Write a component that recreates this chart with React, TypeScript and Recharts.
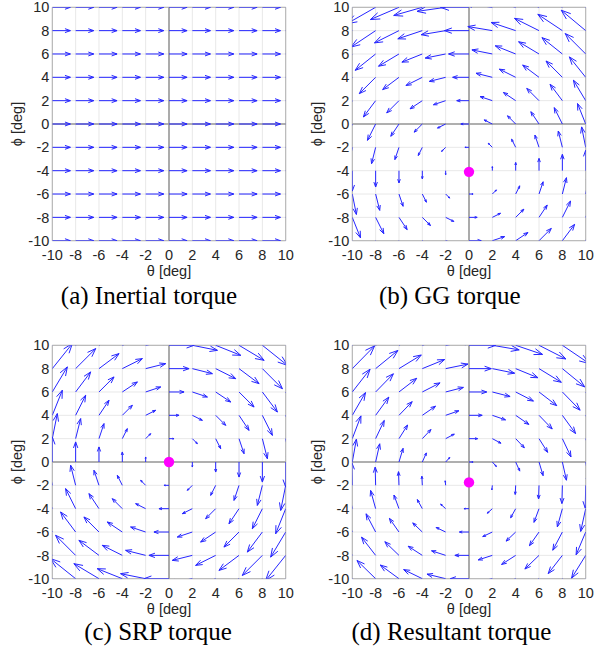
import React from 'react';
import {
  ScatterChart,
  Scatter,
  XAxis,
  YAxis,
  CartesianGrid,
  ReferenceLine,
  ReferenceArea,
} from 'recharts';

// ---------- data ----------
const THETA_TICKS = [-10, -8, -6, -4, -2, 0, 2, 4, 6, 8, 10];
const PHI_TICKS = [-10, -8, -6, -4, -2, 0, 2, 4, 6, 8, 10];

// Arrow components (deg): horizontal component per φ row (φ = -10..10),
// vertical component per θ column (θ = -10..10).
const INERTIAL_U_BY_PHI = [1.55, 1.55, 1.55, 1.55, 1.55, 1.55, 1.55, 1.55, 1.55, 1.55, 1.55];
const INERTIAL_V_BY_THETA = [0, 0, 0, 0, 0, 0, 0, 0, 0, 0, 0];

const GG_U_BY_PHI = [1.05, 0.7, 0.35, 0, -0.35, -0.7, -1.05, -1.4, -1.75, -2.1, -2.45];
const GG_V_BY_THETA = [-1.75, -1.4, -1.05, -0.7, -0.35, 0, 0.35, 0.7, 1.05, 1.4, 1.75];

const SRP_U_BY_PHI = [-2.15, -1.72, -1.29, -0.86, -0.43, 0, 0.43, 0.86, 1.29, 1.72, 2.15];
const SRP_V_BY_THETA = [2.15, 1.72, 1.29, 0.86, 0.43, 0, -0.43, -0.86, -1.29, -1.72, -2.15];

const RES_U_BY_PHI = [-1.6, -1.21, -0.82, -0.43, -0.04, 0.35, 0.74, 1.13, 1.52, 1.91, 2.3];
const RES_V_BY_THETA = [1.95, 1.56, 1.17, 0.78, 0.39, 0, -0.39, -0.78, -1.17, -1.56, -1.95];

// Equilibrium points (magenta markers)
const INERTIAL_EQ: { theta: number; phi: number }[] = [];
const GG_EQ = [{ theta: 0, phi: -4.1 }];
const SRP_EQ = [{ theta: 0, phi: 0 }];
const RES_EQ = [{ theta: 0, phi: -1.75 }];

const CAPTIONS = ['(a) Inertial torque', '(b) GG torque', '(c) SRP torque', '(d) Resultant torque'];
const X_LABEL = 'θ [deg]';
const Y_LABEL = 'ϕ [deg]';

// ---------- styling / layout ----------
const CHART_W = 300;
const CHART_H = 290;
const MARGIN = { top: 7.3, right: 14.3, bottom: 19.3, left: 10.3 };
const Y_AXIS_W = 42;
const X_AXIS_H = 30;
const PLOT_LEFT = MARGIN.left + Y_AXIS_W;
const PLOT_TOP = MARGIN.top;
const PLOT_W = CHART_W - MARGIN.left - MARGIN.right - Y_AXIS_W;
const PLOT_H = CHART_H - MARGIN.top - MARGIN.bottom - X_AXIS_H;

const SANS = '"Liberation Sans", Arial, Helvetica, sans-serif';
const SERIF = '"Liberation Serif", "Times New Roman", serif';
const ARROW_COLOR = '#2626ff';
const TEXT_COLOR = '#262626';

function arrowShape(props: any) {
  const { x1, y1, x2, y2, clipPath } = props;
  const dx = x2 - x1;
  const dy = y2 - y1;
  const L = Math.hypot(dx, dy);
  if (!isFinite(L) || L < 0.5) return <g />;
  const ux = dx / L;
  const uy = dy / L;
  const hl = 0.3 * L;
  const hw = 0.36 * hl;
  const bx = x2 - ux * hl;
  const by = y2 - uy * hl;
  const p1x = bx - uy * hw;
  const p1y = by + ux * hw;
  const p2x = bx + uy * hw;
  const p2y = by - ux * hw;
  return (
    <g clipPath={clipPath}>
      <path
        d={`M${x1},${y1}L${x2},${y2}M${p1x},${p1y}L${x2},${y2}L${p2x},${p2y}`}
        stroke={ARROW_COLOR}
        strokeWidth={1}
        fill="none"
        strokeLinejoin="miter"
      />
    </g>
  );
}

function dotShape(props: any) {
  const { cx, cy } = props;
  return <circle cx={cx} cy={cy} r={5.2} fill="#ff00ff" />;
}

type PanelProps = {
  u: number[];
  v: number[];
  eq: { theta: number; phi: number }[];
  left: number;
  top: number;
};

function QuiverPanel({ u, v, eq, left, top }: PanelProps) {
  const arrows: { key: string; theta: number; phi: number; du: number; dv: number }[] = [];
  PHI_TICKS.forEach((phi, i) => {
    THETA_TICKS.forEach((theta, j) => {
      arrows.push({ key: `${i}-${j}`, theta, phi, du: u[i], dv: v[j] });
    });
  });

  const tickStyle = { fill: TEXT_COLOR, fontSize: 14.5, fontFamily: SANS };

  return (
    <div style={{ position: 'absolute', left, top, width: CHART_W, height: CHART_H }}>
      <ScatterChart width={CHART_W} height={CHART_H} margin={MARGIN}>
        <CartesianGrid stroke="#e8e8e8" strokeWidth={1} fill="none" />
        <XAxis
          type="number"
          dataKey="theta"
          domain={[-10, 10]}
          ticks={THETA_TICKS}
          interval={0}
          allowDataOverflow
          height={X_AXIS_H}
          axisLine={false}
          tickLine={false}
          tickSize={0}
          tickMargin={9}
          tick={tickStyle}
          label={{
            content: () => (
              <text
                x={PLOT_LEFT + PLOT_W / 2}
                y={PLOT_TOP + PLOT_H + 34.8}
                textAnchor="middle"
                fill={TEXT_COLOR}
                fontSize={14.5}
                fontFamily={SANS}
              >
                {X_LABEL}
              </text>
            ),
          }}
        />
        <YAxis
          type="number"
          dataKey="phi"
          domain={[-10, 10]}
          ticks={PHI_TICKS}
          interval={0}
          allowDataOverflow
          width={Y_AXIS_W}
          axisLine={false}
          tickLine={false}
          tickSize={0}
          tickMargin={3}
          tick={tickStyle}
          label={{
            content: () => {
              const cx = 17;
              const cy = PLOT_TOP + PLOT_H / 2;
              return (
                <text
                  x={cx}
                  y={cy}
                  transform={`rotate(-90 ${cx} ${cy})`}
                  textAnchor="middle"
                  dominantBaseline="central"
                  fill={TEXT_COLOR}
                  fontSize={14.5}
                  fontFamily={SANS}
                >
                  {Y_LABEL}
                </text>
              );
            },
          }}
        />
        <ReferenceArea
          x1={-10}
          x2={10}
          y1={-10}
          y2={10}
          fill="none"
          fillOpacity={0}
          stroke="#b0b0b0"
          strokeWidth={1}
          ifOverflow="visible"
        />
        <ReferenceLine x={0} stroke="#999999" strokeWidth={1.6} />
        <ReferenceLine y={0} stroke="#999999" strokeWidth={1.6} />
        {arrows.map((a) => (
          <ReferenceLine
            key={a.key}
            segment={[
              { x: a.theta, y: a.phi },
              { x: a.theta + a.du, y: a.phi + a.dv },
            ]}
            ifOverflow="hidden"
            shape={arrowShape}
          />
        ))}
        <Scatter data={eq} isAnimationActive={false} shape={dotShape} />
      </ScatterChart>
    </div>
  );
}

const CAPTION_POS = [
  { x: 149, y: 303.5 },
  { x: 449.7, y: 303.5 },
  { x: 158, y: 640 },
  { x: 451.5, y: 640 },
];

export default function App() {
  return (
    <div style={{ position: 'absolute', left: 0, top: 0, width: 603, height: 651, background: '#fff' }}>
      <QuiverPanel u={INERTIAL_U_BY_PHI} v={INERTIAL_V_BY_THETA} eq={INERTIAL_EQ} left={0} top={0} />
      <QuiverPanel u={GG_U_BY_PHI} v={GG_V_BY_THETA} eq={GG_EQ} left={300} top={0} />
      <QuiverPanel u={SRP_U_BY_PHI} v={SRP_V_BY_THETA} eq={SRP_EQ} left={0} top={338.4} />
      <QuiverPanel u={RES_U_BY_PHI} v={RES_V_BY_THETA} eq={RES_EQ} left={300} top={338.4} />
      <svg
        width={603}
        height={651}
        style={{ position: 'absolute', left: 0, top: 0, pointerEvents: 'none' }}
      >
        {CAPTIONS.map((c, i) => (
          <text
            key={c}
            x={CAPTION_POS[i].x}
            y={CAPTION_POS[i].y}
            textAnchor="middle"
            fontSize={25}
            fontFamily={SERIF}
            fill="#000"
          >
            {c}
          </text>
        ))}
      </svg>
    </div>
  );
}
